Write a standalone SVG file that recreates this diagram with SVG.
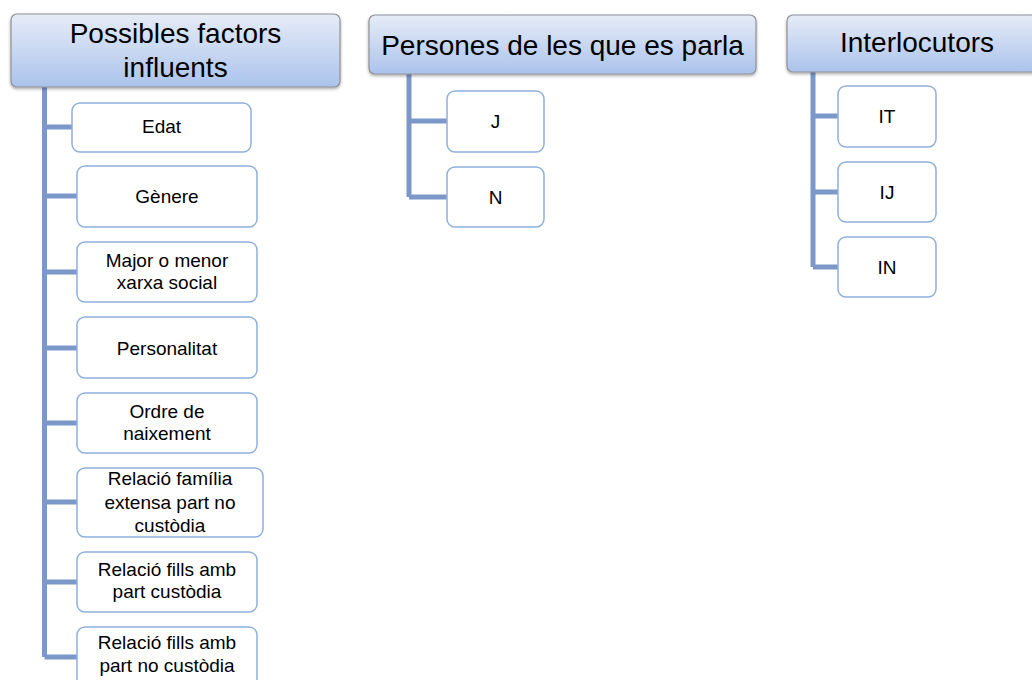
<svg xmlns="http://www.w3.org/2000/svg" width="1032" height="680" viewBox="0 0 1032 680">
<defs>
<linearGradient id="hg" x1="0" y1="0" x2="0" y2="1">
<stop offset="0" stop-color="#e6ecf7"/>
<stop offset="1" stop-color="#abc3ec"/>
</linearGradient>
<filter id="sh" x="-10%" y="-20%" width="120%" height="150%">
<feDropShadow dx="0" dy="1.5" stdDeviation="1.5" flood-color="#000" flood-opacity="0.35"/>
</filter>
<style>
.hd{fill:url(#hg);stroke:#8f9297;stroke-width:1.2;filter:url(#sh)}
.ch{fill:#fff;stroke:#8fb0dc;stroke-width:1.5}
.ht{font-family:"Liberation Sans",Arial,sans-serif;font-size:28px;fill:#000;text-anchor:middle}
.ct{font-family:"Liberation Sans",Arial,sans-serif;font-size:19px;fill:#000;text-anchor:middle}
.cn{fill:none;stroke:#7b98c9;stroke-width:5}
</style>
</defs>
<rect width="1032" height="680" fill="#fff"/>
<g id="connectors">
<path class="cn" d="M44.5 87V657M44.5 127H72M44.5 196H77M44.5 272H77M44.5 348H77M44.5 423H77M44.5 502H77M44.5 582H77M44.5 657H77"/>
<path class="cn" d="M409 74V197M409 121H447M409 197H447"/>
<path class="cn" d="M813 71V267M813 116H838M813 192H838M813 267H838"/>
</g>
<g id="h1">
<rect class="hd" x="11" y="14" width="329" height="73" rx="6"/>
<text class="ht" x="175.5" y="43">Possibles factors</text>
<text class="ht" x="175.5" y="77">influents</text>
</g>
<g id="h2">
<rect class="hd" x="369" y="15" width="387" height="59" rx="6"/>
<text class="ht" x="562.5" y="55">Persones de les que es parla</text>
</g>
<g id="h3">
<rect class="hd" x="787" y="15" width="262" height="57" rx="6"/>
<text class="ht" x="917" y="52">Interlocutors</text>
</g>
<g id="n-edat">
<rect class="ch" x="72" y="103" width="179" height="49" rx="8"/>
<text class="ct" x="161.5" y="133">Edat</text>
</g>
<g id="n-genere">
<rect class="ch" x="77" y="166" width="180" height="61" rx="8"/>
<text class="ct" x="167" y="203">Gènere</text>
</g>
<g id="n-major">
<rect class="ch" x="77" y="242" width="180" height="60" rx="8"/>
<text class="ct" x="167" y="267">Major o menor</text>
<text class="ct" x="167" y="289">xarxa social</text>
</g>
<g id="n-personalitat">
<rect class="ch" x="77" y="317" width="180" height="61" rx="8"/>
<text class="ct" x="167" y="355">Personalitat</text>
</g>
<g id="n-ordre">
<rect class="ch" x="77" y="393" width="180" height="60" rx="8"/>
<text class="ct" x="167" y="418">Ordre de</text>
<text class="ct" x="167" y="440">naixement</text>
</g>
<g id="n-familia">
<rect class="ch" x="77" y="468" width="186" height="69" rx="8"/>
<text class="ct" x="170" y="485">Relació família</text>
<text class="ct" x="170" y="509">extensa part no</text>
<text class="ct" x="170" y="532">custòdia</text>
</g>
<g id="n-fills-custodia">
<rect class="ch" x="77" y="552" width="180" height="60" rx="8"/>
<text class="ct" x="167" y="576">Relació fills amb</text>
<text class="ct" x="167" y="598">part custòdia</text>
</g>
<g id="n-fills-no-custodia">
<rect class="ch" x="77" y="627" width="180" height="61" rx="8"/>
<text class="ct" x="167" y="649">Relació fills amb</text>
<text class="ct" x="167" y="672">part no custòdia</text>
</g>
<g id="n-j">
<rect class="ch" x="447" y="91" width="97" height="61" rx="8"/>
<text class="ct" x="495.5" y="128">J</text>
</g>
<g id="n-n">
<rect class="ch" x="447" y="167" width="97" height="60" rx="8"/>
<text class="ct" x="495.5" y="204">N</text>
</g>
<g id="n-it">
<rect class="ch" x="838" y="86" width="98" height="61" rx="8"/>
<text class="ct" x="887" y="123">IT</text>
</g>
<g id="n-ij">
<rect class="ch" x="838" y="162" width="98" height="60" rx="8"/>
<text class="ct" x="887" y="199">IJ</text>
</g>
<g id="n-in">
<rect class="ch" x="838" y="237" width="98" height="60" rx="8"/>
<text class="ct" x="887" y="274">IN</text>
</g>
</svg>
